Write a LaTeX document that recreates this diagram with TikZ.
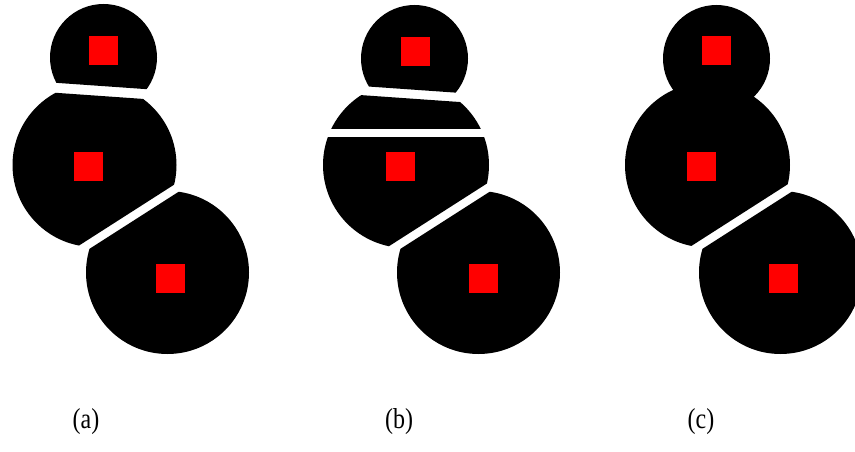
\documentclass[tikz,border=0pt]{standalone}
\usepackage{graphicx}
\usepackage{fontspec}
\setmainfont{Liberation Serif}
% half-plane clip regions bounded by the line y = a + s (x - x0)
% #1 = a, #2 = s, #3 = x0
\newcommand\regionup[3]{(-60,{#1+#2*(-60-#3)}) -- (360,{#1+#2*(360-#3)}) -- (360,-80) -- (-60,-80) -- cycle}
\newcommand\regiondown[3]{(-60,{#1+#2*(-60-#3)}) -- (360,{#1+#2*(360-#3)}) -- (360,560) -- (-60,560) -- cycle}
\newcommand\captext[1]{\scalebox{1}[1.2]{#1}}
\begin{document}
\begin{tikzpicture}[x=1pt,y=-1pt,
  cellfill/.style={fill=black},
  site/.style={fill=red,draw=none,minimum size=29pt,inner sep=0pt},
  caption/.style={font=\fontsize{24}{28}\selectfont,inner sep=0pt}]
\useasboundingbox (0,0) rectangle (855,452);
\clip (0,0) rectangle (855,452);

% ---------------- (a): three separated cells ----------------
\begin{scope}
  \begin{scope}
    \clip \regionup{85.9}{0.07}{100};
    \fill[cellfill] (103.5,57.5) circle[radius=53.5pt];
  \end{scope}
  \begin{scope}
    \clip \regiondown{95.9}{0.07}{100};
    \clip \regionup{212.9}{-0.64}{130};
    \fill[cellfill] (94.5,165) circle[radius=82pt];
  \end{scope}
  \begin{scope}
    \clip \regiondown{222.9}{-0.64}{130};
    \fill[cellfill] (167.5,272.5) circle[radius=81.5pt];
  \end{scope}
  \node[site] (a1) at (103,50.5) {};
  \node[site] (a2) at (88.5,166) {};
  \node[site] (a3) at (170.5,278) {};
\end{scope}

% ---------------- (b): middle cell split by a horizontal cut ----------------
\begin{scope}[shift={(311,0)}]
  \begin{scope}
    \clip \regionup{89.5}{0.07}{100};
    \fill[cellfill] (103.5,58.5) circle[radius=53.5pt];
  \end{scope}
  \begin{scope}
    \clip \regiondown{98.6}{0.07}{100};
    \clip \regionup{128.5}{0}{0};
    \fill[cellfill] (95,165) circle[radius=83pt];
  \end{scope}
  \begin{scope}
    \clip \regiondown{137.5}{0}{0};
    \clip \regionup{212.9}{-0.64}{130};
    \fill[cellfill] (95,165) circle[radius=83pt];
  \end{scope}
  \begin{scope}
    \clip \regiondown{222.9}{-0.64}{130};
    \fill[cellfill] (167.5,272.5) circle[radius=81.5pt];
  \end{scope}
  \node[site] (b1) at (104.5,51.5) {};
  \node[site] (b2) at (89,166) {};
  \node[site] (b3) at (172,278) {};
\end{scope}

% ---------------- (c): upper two cells merged ----------------
\begin{scope}[shift={(613,0)}]
  \begin{scope}
    \clip \regionup{212.9}{-0.64}{130};
    \fill[cellfill] (103.5,58.5) circle[radius=53.5pt];
    \fill[cellfill] (94.5,165) circle[radius=82.5pt];
  \end{scope}
  \begin{scope}
    \clip \regiondown{222.9}{-0.64}{130};
    \fill[cellfill] (167.5,272.5) circle[radius=81.5pt];
  \end{scope}
  \node[site] (c1) at (103.5,51) {};
  \node[site] (c2) at (88.5,166) {};
  \node[site] (c3) at (170.5,278) {};
\end{scope}

% captions
\node[caption] (capa) at (86,422) {\captext{(a)}};
\node[caption] (capb) at (399,422) {\captext{(b)}};
\node[caption] (capc) at (701,422) {\captext{(c)}};
\end{tikzpicture}
\end{document}
